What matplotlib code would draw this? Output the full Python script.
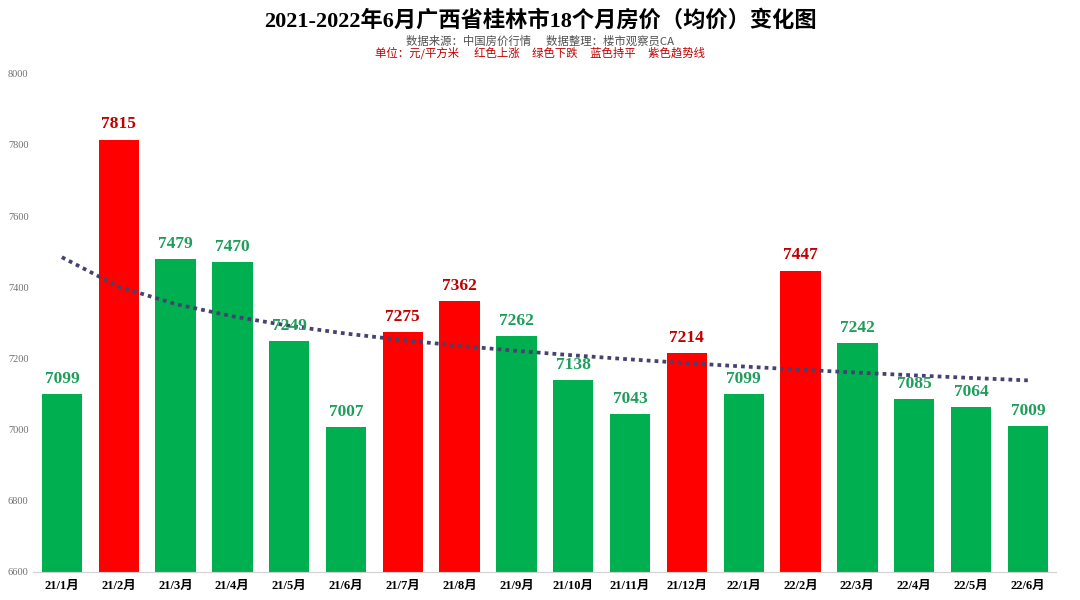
import numpy as np
import matplotlib.pyplot as plt

months = ['21/1月', '21/2月', '21/3月', '21/4月', '21/5月', '21/6月', '21/7月', '21/8月', '21/9月',
          '21/10月', '21/11月', '21/12月', '22/1月', '22/2月', '22/3月', '22/4月', '22/5月', '22/6月']
prices = [7099, 7815, 7479, 7470, 7249, 7007, 7275, 7362, 7262,
          7138, 7043, 7214, 7099, 7447, 7242, 7085, 7064, 7009]
rising = [False, True, False, False, False, False, True, True, False,
          False, False, True, False, True, False, False, False, False]

serif = ['Liberation Serif', 'Noto Sans CJK SC']
cjk = ['Noto Sans CJK SC', 'DejaVu Sans']

fig = plt.figure(figsize=(10.8, 6), dpi=100)
ax = fig.add_axes([0.031, 0.047, 0.947, 0.83])

x = np.arange(len(prices))
colors = ['#FF0000' if r else '#00B050' for r in rising]
ax.bar(x, prices, width=0.71, color=colors, zorder=2)

for xi, p, r in zip(x, prices, rising):
    ax.text(xi, p + 20, str(p), ha='center', va='bottom', fontsize=12.5, fontweight='bold',
            color='#C00000' if r else '#1E9E5A', family=serif, zorder=4)

# logarithmic trend line
b, a = np.polyfit(np.log(x + 1), prices, 1)
trend = a + b * np.log(x + 1)
ax.plot(x, trend, color='#44426E', linestyle=(0, (1, 1.1)), linewidth=2.7,
        dash_capstyle='butt', zorder=3)

ax.set_xlim(-0.5, len(prices) - 0.5)
ax.set_ylim(6600, 8000)
ax.set_yticks(range(6600, 8001, 200))
ax.set_xticks(x)
ax.set_xticklabels(months, fontweight='bold', fontsize=9, family=serif)
ax.tick_params(axis='x', length=0, pad=6)
ax.tick_params(axis='y', length=0, labelsize=7.5, labelcolor='#707070')
for lbl in ax.get_yticklabels():
    lbl.set_family(serif)
for s in ['top', 'right', 'left']:
    ax.spines[s].set_visible(False)
ax.spines['bottom'].set_color('#D0D0D0')

fig.text(0.5, 0.965, '2021-2022年6月广西省桂林市18个月房价（均价）变化图', ha='center', va='center',
         fontsize=16, fontweight='bold', family=serif)
fig.text(0.5, 0.932, '数据来源：中国房价行情      数据整理：楼市观察员CA', ha='center', va='center',
         fontsize=8.2, color='#505050', family=cjk)
fig.text(0.5, 0.912, '单位：元/平方米      红色上涨     绿色下跌     蓝色持平     紫色趋势线', ha='center',
         va='center', fontsize=8.2, color='#C00000', family=cjk)

fig.savefig('out.png', dpi=100)
